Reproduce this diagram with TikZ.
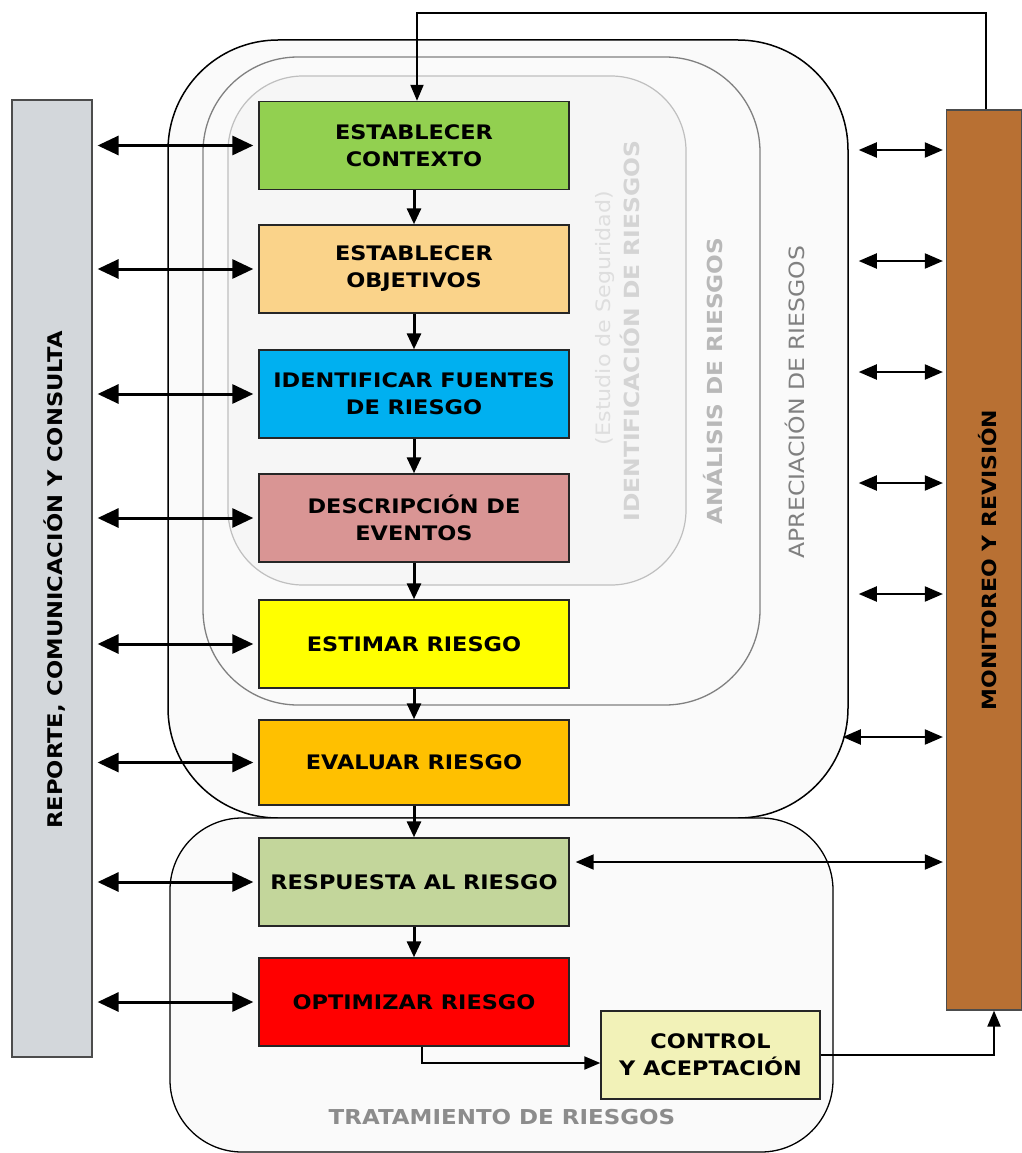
\documentclass[tikz,border=0pt]{standalone}
\usepackage{fontspec}
\setmainfont{DejaVu Sans}[FakeStretch=1.12]
\usetikzlibrary{arrows.meta}
\definecolor{cGreen}{HTML}{92D050}
\definecolor{cPeach}{HTML}{FAD38A}
\definecolor{cBlue}{HTML}{00B0F0}
\definecolor{cRose}{HTML}{D99594}
\definecolor{cYellow}{HTML}{FFFF00}
\definecolor{cOrange}{HTML}{FFC000}
\definecolor{cOlive}{HTML}{C3D69B}
\definecolor{cRed}{HTML}{FF0000}
\definecolor{cCream}{HTML}{F2F2B8}
\definecolor{cGreyBar}{HTML}{D3D7DB}
\definecolor{cBrown}{HTML}{B87033}
\begin{document}
\begin{tikzpicture}[x=1pt,y=-1pt,
  stepbox/.style={draw=black!85, line width=1.4pt, minimum width=310pt, minimum height=88pt,
    align=center, inner sep=0pt, font=\fontsize{20}{27}\selectfont\bfseries},
  sidebar/.style={draw=black!70, line width=1.2pt, inner sep=0pt},
  container/.style={rounded corners=#1, inner sep=0pt},
  dbl/.style={{Triangle[length=21pt,width=19pt]}-{Triangle[length=21pt,width=19pt]}, line width=3pt},
  dblthin/.style={{Triangle[length=18pt,width=15pt]}-{Triangle[length=18pt,width=15pt]}, line width=2pt},
  down/.style={-{Triangle[length=16pt,width=14pt]}, line width=3pt},
  fb/.style={-{Triangle[length=16pt,width=13pt]}, line width=2pt},
  vlabel/.style={rotate=90, inner sep=0pt}
]
\useasboundingbox (0,0) rectangle (1021,1153);
\fill[white] (0,0) rectangle (1021,1153);

% containers
\node[container=110pt, draw=black, line width=1.5pt, fill=black!2, minimum width=680pt, minimum height=778pt] (apre) at (508,429) {};
\node[container=95pt, draw=black!50, line width=1.3pt, fill=black!2, minimum width=557pt, minimum height=648pt] (anal) at (481.5,381) {};
\node[container=75pt, draw=black!25, line width=1.2pt, fill=black!3.5, minimum width=458pt, minimum height=509pt] (ident) at (457,330.5) {};
\node[container=72pt, draw=black, line width=1.3pt, fill=black!2, minimum width=663pt, minimum height=334pt] (trat) at (501.5,985) {};

% container labels
\node[vlabel, text=black!50, font=\fontsize{21}{21}\selectfont] (lapre) at (795,402) {APRECIACIÓN DE RIESGOS};
\node[vlabel, text=black!28, font=\fontsize{20.7}{20.7}\selectfont\bfseries] (lanal) at (713,381) {ANÁLISIS DE RIESGOS};
\node[vlabel, text=black!13, font=\fontsize{19.8}{19.8}\selectfont] (lest) at (605,318) {(Estudio de Seguridad)};
\node[vlabel, text=black!17, font=\fontsize{20.9}{20.9}\selectfont\bfseries] (lident) at (630,331) {IDENTIFICACIÓN DE RIESGOS};
\node[text=black!45, font=\fontsize{20.5}{20.5}\selectfont\bfseries] (ltrat) at (502,1117) {TRATAMIENTO DE RIESGOS};

% side bars
\node[sidebar, fill=cGreyBar, minimum width=80pt, minimum height=957pt] (rep) at (52,578.5) {};
\node[vlabel, font=\fontsize{20.2}{20.2}\selectfont\bfseries] (lrep) at (55,580) {REPORTE, COMUNICACIÓN Y CONSULTA};
\node[sidebar, fill=cBrown, minimum width=75pt, minimum height=900pt] (mon) at (984,560) {};
\node[vlabel, font=\fontsize{19.6}{19.6}\selectfont\bfseries] (lmon) at (988,560) {MONITOREO Y REVISIÓN};

% step boxes
\node[stepbox, fill=cGreen] (b1) at (414,145.5) {ESTABLECER\\CONTEXTO};
\node[stepbox, fill=cPeach] (b2) at (414,269) {ESTABLECER\\OBJETIVOS};
\node[stepbox, fill=cBlue] (b3) at (414,394) {IDENTIFICAR FUENTES\\DE RIESGO};
\node[stepbox, fill=cRose] (b4) at (414,518) {DESCRIPCIÓN DE\\EVENTOS};
\node[stepbox, fill=cYellow] (b5) at (414,644) {ESTIMAR RIESGO};
\node[stepbox, fill=cOrange, minimum height=85pt] (b6) at (414,762.5) {EVALUAR RIESGO};
\node[stepbox, fill=cOlive] (b7) at (414,882) {RESPUESTA AL RIESGO};
\node[stepbox, fill=cRed] (b8) at (414,1002) {OPTIMIZAR RIESGO};
\node[stepbox, fill=cCream, minimum width=219pt] (ctrl) at (710.5,1055) {CONTROL\\Y ACEPTACIÓN};

% vertical flow
\foreach \a/\b in {b1/b2,b2/b3,b3/b4,b4/b5,b5/b6,b6/b7,b7/b8}
  \draw[down] (\a.south) -- (\b.north);

% left double arrows
\foreach \b in {b1,b2,b3,b4,b5,b6,b7,b8}
  \draw[dbl, shorten <=5pt, shorten >=5pt] (rep.east |- \b.west) -- (\b.west);

% right double arrows
\foreach \yy in {150,261,372,483,594}
  \draw[dblthin, shorten >=3pt] ([xshift=10pt]apre.east |- 0,\yy) -- (mon.west |- 0,\yy);
\draw[dblthin, shorten >=3pt] ([xshift=-6pt]apre.east |- 0,737) -- (mon.west |- 0,737);
\draw[dblthin, shorten <=6pt, shorten >=3pt] ([yshift=20pt]b7.east) -- (mon.west |- 0,862);

% feedback from monitoring to top
\coordinate (top) at (0,13);
\draw[fb] ([xshift=2pt]mon.north) -- ([xshift=2pt]mon.north |- top) -- ([xshift=3pt]b1.north |- top) -- ([xshift=3pt]b1.north);

% optimizar -> control
\draw[fb] ([xshift=8pt]b8.south) |- ([yshift=-8pt]ctrl.west);
% control -> monitoring
\draw[fb] (ctrl.east) -| ([xshift=10pt]mon.south);
\end{tikzpicture}
\end{document}
